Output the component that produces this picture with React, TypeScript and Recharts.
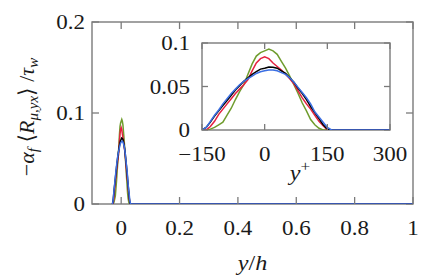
import { Label, Line, LineChart, ReferenceArea, XAxis, YAxis } from "recharts";

// wall distance in wall units, shared by all four profiles
const yPlus = [
  -150, -140, -130, -120, -110, -100, -90, -80, -70, -60, -50, -40, -30, -20,
  -10, 0, 10, 20, 30, 40, 50, 60, 70, 80, 90, 100, 110, 120, 130, 140, 150, 160,
];
const green = [
  0, 0, 0.001, 0.003, 0.006, 0.009, 0.017, 0.025, 0.035, 0.044, 0.052, 0.064,
  0.076, 0.085, 0.089, 0.091, 0.093, 0.091, 0.087, 0.079, 0.071, 0.062, 0.052,
  0.042, 0.031, 0.022, 0.012, 0.006, 0.002, 0, 0, 0,
];
const red = [
  0, 0, 0.004, 0.01, 0.018, 0.024, 0.03, 0.036, 0.042, 0.047, 0.052, 0.058,
  0.068, 0.077, 0.082, 0.084, 0.082, 0.077, 0.073, 0.069, 0.064, 0.059, 0.053,
  0.045, 0.037, 0.03, 0.024, 0.017, 0.01, 0.005, 0, 0,
];
const black = [
  0, 0.003, 0.009, 0.016, 0.022, 0.028, 0.034, 0.04, 0.046, 0.051, 0.056, 0.06,
  0.064, 0.067, 0.07, 0.071, 0.0725, 0.072, 0.071, 0.068, 0.065, 0.06, 0.055,
  0.048, 0.042, 0.035, 0.027, 0.02, 0.013, 0.006, 0.001, 0,
];
const blue = [
  0, 0.003, 0.01, 0.017, 0.023, 0.03, 0.036, 0.042, 0.047, 0.052, 0.056, 0.059,
  0.062, 0.065, 0.067, 0.068, 0.069, 0.069, 0.068, 0.066, 0.064, 0.06, 0.055,
  0.049, 0.043, 0.037, 0.03, 0.021, 0.015, 0.009, 0.003, 0,
];
const RE_TAU = 5000; // y/h = y+ / Re_tau

const mainXDomain = [-0.1, 1];
const mainYDomain = [0, 0.2];
const mainXTicks = [0, 0.2, 0.4, 0.6, 0.8, 1];
const mainYTicks = [0, 0.1, 0.2];
const insetXDomain = [-150, 300];
const insetYDomain = [0, 0.1];
const insetXTicks = [-150, 0, 150, 300];
const insetYTicks = [0, 0.05, 0.1];

const series = [
  { key: "green", color: "#6f9c2d" },
  { key: "red", color: "#e5203f" },
  { key: "black", color: "#000000" },
  { key: "blue", color: "#3b6fe3" },
];

const rows = (scale: number, end: number) => [
  ...yPlus.map((yp, i) => ({
    x: yp / scale,
    green: green[i],
    red: red[i],
    black: black[i],
    blue: blue[i],
  })),
  { x: end, green: 0, red: 0, black: 0, blue: 0 },
];

const mainData = rows(RE_TAU, 1);
const insetData = rows(1, 300);

const FONT = "Liberation Serif, DejaVu Serif, serif";
const INK = "#1a1a1a";
const AXIS = "#7a7a7a";
const fmt = (v: number) => (v < 0 ? "\u2212" + Math.abs(v) : String(v));

// inward tick marks (gnuplot style) plus the label
const mkTick = (side: "bottom" | "left", len: number, gap: number) =>
  function Tick(props: any) {
    const { x, y, payload } = props;
    const line =
      side === "bottom"
        ? { x1: x, x2: x, y1: y, y2: y - len }
        : { x1: x, x2: x + len, y1: y, y2: y };
    const tx = side === "left" ? x - gap : x;
    const ty = side === "left" ? y + 7 : y + gap;
    return (
      <g>
        <line {...line} stroke={AXIS} strokeWidth={1.3} />
        <text
          x={0}
          y={0}
          transform={`translate(${tx},${ty}) scale(1.15,1)`}
          textAnchor={side === "left" ? "end" : "middle"}
          fontFamily={FONT}
          fontSize={20}
          fill={INK}
        >
          {fmt(payload.value)}
        </text>
      </g>
    );
  };

// box around the plot area with mirrored inward ticks on top and right
const mkFrame =
  (xd: number[], yd: number[], xt: number[], yt: number[], len: number) =>
  (props: any) => {
    const { x, y, width, height } = props;
    const px = (v: number) => x + ((v - xd[0]) / (xd[1] - xd[0])) * width;
    const py = (v: number) => y + height - ((v - yd[0]) / (yd[1] - yd[0])) * height;
    return (
      <g>
        <rect x={x} y={y} width={width} height={height} fill="none" stroke={AXIS} strokeWidth={1.4} />
        {xt.map((v) => (
          <line key={"t" + v} x1={px(v)} x2={px(v)} y1={y} y2={y + len} stroke={AXIS} strokeWidth={1.3} />
        ))}
        {yt.map((v) => (
          <line key={"r" + v} x1={x + width} x2={x + width - len} y1={py(v)} y2={py(v)} stroke={AXIS} strokeWidth={1.3} />
        ))}
      </g>
    );
  };

function MainXLabel(props: any) {
  const vb = props.viewBox;
  return (
    <text
      x={0}
      y={0}
      transform={`translate(${vb.x + vb.width / 2},${vb.y + 66}) scale(1.15,1)`}
      textAnchor="middle"
      fontFamily={FONT}
      fontSize={21}
      fill={INK}
    >
      <tspan fontStyle="italic">y</tspan>
      <tspan>/</tspan>
      <tspan fontStyle="italic">h</tspan>
    </text>
  );
}

function MainYLabel(props: any) {
  const vb = props.viewBox;
  const cx = 34;
  const cy = vb.y + vb.height / 2 + 4;
  return (
    <text
      x={cx}
      y={cy}
      transform={`rotate(-90, ${cx}, ${cy})`}
      textAnchor="middle"
      fontFamily={FONT}
      fontSize={22}
      fill={INK}
    >
      <tspan>{"\u2212"}</tspan>
      <tspan fontStyle="italic">{"\u03b1"}</tspan>
      <tspan fontStyle="italic" fontSize={15} dy={4}>f</tspan>
      <tspan dy={-4}>{" \u27e8"}</tspan>
      <tspan fontStyle="italic">R</tspan>
      <tspan fontStyle="italic" fontSize={15} dy={4}>{"\u03bc,yx"}</tspan>
      <tspan dy={-4}>{"\u27e9 /"}</tspan>
      <tspan fontStyle="italic">{"\u03c4"}</tspan>
      <tspan fontStyle="italic" fontSize={15} dy={4}>w</tspan>
    </text>
  );
}

function InsetXLabel(props: any) {
  const vb = props.viewBox;
  return (
    <text
      x={0}
      y={0}
      transform={`translate(${vb.x + vb.width / 2 + 4},${vb.y + 50}) scale(1.15,1)`}
      textAnchor="middle"
      fontFamily={FONT}
      fontSize={21}
      fill={INK}
    >
      <tspan fontStyle="italic">y</tspan>
      <tspan fontSize={15} dy={-9}>+</tspan>
    </text>
  );
}

function lines() {
  return series.map((s) => (
    <Line
      key={s.key}
      dataKey={s.key}
      stroke={s.color}
      strokeWidth={1.5}
      dot={false}
      type="linear"
      isAnimationActive={false}
    />
  ));
}

export default function App() {
  return (
    <div
      style={{
        position: "absolute",
        left: 0,
        top: 0,
        width: 441,
        height: 280,
        background: "#fff",
      }}
    >
      <LineChart
        width={441}
        height={280}
        data={mainData}
        margin={{ top: 22, right: 28, bottom: 46, left: 0 }}
      >
        <XAxis
          dataKey="x"
          type="number"
          domain={mainXDomain}
          ticks={mainXTicks}
          interval={0}
          allowDataOverflow
          height={30}
          axisLine={false}
          tickLine={false}
          tickSize={0}
          tickMargin={0}
          tick={mkTick("bottom", 7, 31)}
        >
          <Label content={MainXLabel} />
        </XAxis>
        <YAxis
          type="number"
          domain={mainYDomain}
          ticks={mainYTicks}
          interval={0}
          allowDataOverflow
          width={92}
          axisLine={false}
          tickLine={false}
          tickSize={0}
          tickMargin={0}
          tick={mkTick("left", 7, 7)}
        >
          <Label content={MainYLabel} />
        </YAxis>
        <ReferenceArea
          x1={mainXDomain[0]}
          x2={mainXDomain[1]}
          y1={mainYDomain[0]}
          y2={mainYDomain[1]}
          ifOverflow="visible"
          shape={mkFrame(mainXDomain, mainYDomain, mainXTicks, mainYTicks, 7)}
        />
        {lines()}
      </LineChart>

      <div style={{ position: "absolute", left: 150, top: 30 }}>
        <LineChart
          width={270}
          height={160}
          data={insetData}
          margin={{ top: 13, right: 30, bottom: 30, left: 0 }}
        >
          <XAxis
            dataKey="x"
            type="number"
            domain={insetXDomain}
            ticks={insetXTicks}
            interval={0}
            allowDataOverflow
            height={30}
            axisLine={false}
            tickLine={false}
            tickSize={0}
            tickMargin={0}
            tick={mkTick("bottom", 6, 31)}
          >
            <Label content={InsetXLabel} />
          </XAxis>
          <YAxis
            type="number"
            domain={insetYDomain}
            ticks={insetYTicks}
            interval={0}
            allowDataOverflow
            width={52}
            axisLine={false}
            tickLine={false}
            tickSize={0}
            tickMargin={0}
            tick={mkTick("left", 6, 12)}
          />
          <ReferenceArea
            x1={insetXDomain[0]}
            x2={insetXDomain[1]}
            y1={insetYDomain[0]}
            y2={insetYDomain[1]}
            ifOverflow="visible"
            shape={mkFrame(insetXDomain, insetYDomain, insetXTicks, insetYTicks, 6)}
          />
          {lines()}
        </LineChart>
      </div>
    </div>
  );
}
